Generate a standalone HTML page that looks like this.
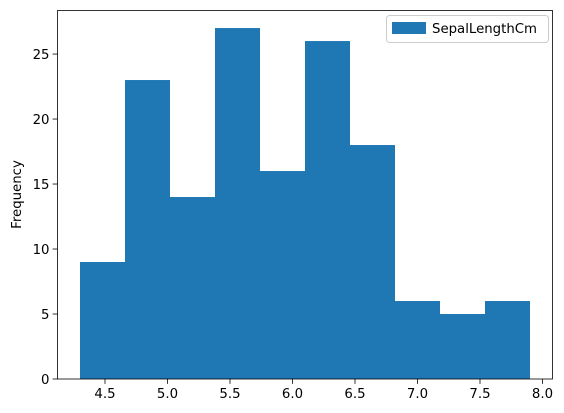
<!DOCTYPE html>
<html><head><meta charset="utf-8"><style>
body{margin:0;background:#fff}
svg{display:block;font-family:"DejaVu Sans","Liberation Sans",sans-serif}
</style></head><body>
<svg id="chart" width="564" height="413">
<g id="bars"></g>
<g id="xaxis"></g>
<g id="yaxis"></g>
<rect x="57.5" y="10.5" width="495" height="368.5" fill="none" stroke="#000" stroke-width="0.8"/>
<text transform="translate(21,194.5) rotate(-90)" text-anchor="middle" font-size="13.3">Frequency</text>
<g>
<rect x="386.5" y="15.5" width="162" height="27" rx="3" fill="#fff" stroke="#ccc" stroke-width="1"/>
<rect x="392" y="22" width="34" height="12" fill="#1f77b4"/>
<text x="432" y="33" font-size="13.3">SepalLengthCm</text>
</g>
</svg>
<script>
const binEdges=[4.3,4.66,5.02,5.38,5.74,6.1,6.46,6.82,7.18,7.54,7.9];
const counts=[9,23,14,27,16,26,18,6,5,6];
const xTicks=[4.5,5.0,5.5,6.0,6.5,7.0,7.5,8.0];
const yTicks=[0,5,10,15,20,25];
const NS="http://www.w3.org/2000/svg";
const X0=57.5,X1=552.5,Y0=379,Y1=10.5;
const xmin=4.12,xmax=8.08,ymin=0,ymax=28.35;
const sx=v=>X0+(v-xmin)/(xmax-xmin)*(X1-X0);
const sy=v=>Y0-(v-ymin)/(ymax-ymin)*(Y0-Y1);
function mk(t,a,p){const e=document.createElementNS(NS,t);for(const k in a)e.setAttribute(k,a[k]);p.appendChild(e);return e;}
const bars=document.getElementById('bars');
counts.forEach((c,i)=>{
 const r=mk('rect',{x:sx(binEdges[i]),y:sy(c),width:sx(binEdges[i+1])-sx(binEdges[i]),height:sy(0)-sy(c),fill:'#1f77b4'},bars);
 
 
});
const xa=document.getElementById('xaxis');
xTicks.forEach(v=>{
 const l=mk('line',{x1:sx(v),x2:sx(v),y1:Y0,y2:Y0+4.9,stroke:'#000','stroke-width':0.8},xa);
 
 
 const t=mk('text',{x:sx(v),y:Y0+19,'text-anchor':'middle','font-size':13.3},xa);
 t.textContent=v.toFixed(1);
 
 
});
const ya=document.getElementById('yaxis');
yTicks.forEach(v=>{
 const l=mk('line',{x1:X0-4.9,x2:X0,y1:sy(v),y2:sy(v),stroke:'#000','stroke-width':0.8},ya);
 
 
 const t=mk('text',{x:X0-8,y:sy(v)+5,'text-anchor':'end','font-size':13.3},ya);
 t.textContent=v;
 
 
});
</script>
</body></html>
